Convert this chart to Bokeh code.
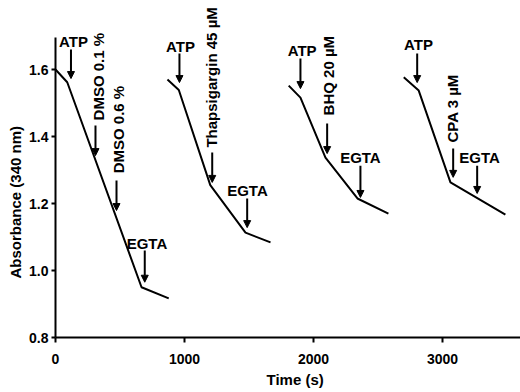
from math import pi
from bokeh.plotting import figure
from bokeh.models import ColumnDataSource, FixedTicker, Arrow, NormalHead, Title, PrintfTickFormatter
from bokeh.core.properties import value
from bokeh.embed import file_html
from bokeh.resources import INLINE

FONT = "Liberation Sans"

# ---- data (time in s, absorbance at 340 nm) ----
trace1_t = [0, 91, 667, 878]
trace1_v = [1.600, 1.562, 0.950, 0.917]
trace2_t = [868, 956, 1200, 1473, 1667]
trace2_v = [1.570, 1.539, 1.255, 1.113, 1.084]
trace3_t = [1808, 1899, 2093, 2341, 2581]
trace3_v = [1.552, 1.516, 1.337, 1.215, 1.170]
trace4_t = [2700, 2816, 3062, 3488]
trace4_v = [1.577, 1.537, 1.263, 1.167]

# horizontal annotations
h_text = ["ATP", "ATP", "ATP", "ATP", "EGTA", "EGTA", "EGTA", "EGTA"]
h_t = [140, 969, 1912, 2814, 709, 1488, 2364, 3287]
h_v = [1.684, 1.670, 1.657, 1.675, 1.081, 1.239, 1.337, 1.337]

# vertical annotations
v_text = ["DMSO 0.1 %", "DMSO 0.6 %", "Thapsigargin 45 µM", "BHQ 20 µM", "CPA 3 µM"]
v_t = [333, 488, 1209, 2116, 3078]
v_v = [1.448, 1.290, 1.367, 1.463, 1.382]

# arrows
arrow_t = [120, 310, 473, 692, 961, 1215, 1486, 1899, 2106, 2364, 2804, 3083, 3269]
arrow_top = [1.660, 1.433, 1.269, 1.060, 1.648, 1.352, 1.215, 1.633, 1.439, 1.313, 1.648, 1.364, 1.313]
arrow_tip = [1.573, 1.343, 1.179, 0.965, 1.561, 1.263, 1.128, 1.543, 1.349, 1.218, 1.561, 1.278, 1.230]

x_ticks = [0, 1000, 2000, 3000]
y_ticks = [0.8, 1.0, 1.2, 1.4, 1.6]

p = figure(width=520, height=392, x_range=(0, 3605), y_range=(0.8, 1.806),
           output_backend="svg", toolbar_location=None, title=None,
           min_border_left=55, min_border_right=0, min_border_top=0, min_border_bottom=55)
p.outline_line_color = None
p.xgrid.grid_line_color = None
p.ygrid.grid_line_color = None
p.background_fill_color = "white"

for ax in (p.xaxis[0], p.yaxis[0]):
    ax.axis_line_width = 2
    ax.axis_line_color = "black"
    ax.major_tick_line_width = 2
    ax.major_tick_line_color = "black"
    ax.major_tick_in = 0
    ax.minor_tick_line_color = None
    ax.major_label_text_font = FONT
    ax.major_label_text_font_style = "bold"
    ax.major_label_text_font_size = "14px"
    ax.major_label_text_color = "black"

p.xaxis.ticker = FixedTicker(ticks=x_ticks)
p.yaxis.ticker = FixedTicker(ticks=y_ticks)
p.yaxis.formatter = PrintfTickFormatter(format="%.1f")
p.xaxis.major_tick_out = 5
p.yaxis.major_tick_out = 4
p.xaxis.major_label_standoff = 11
p.yaxis.major_label_standoff = 3
p.yaxis.bounds = (0.8, 1.695)

# axis titles
p.add_layout(Title(text="Absorbance (340 nm)", align="left", offset=59, standoff=6,
                   text_font=FONT, text_font_style="bold", text_font_size="15px",
                   text_color="black"), "left")
p.add_layout(Title(text="Time (s)", align="left", offset=211, standoff=5,
                   text_font=FONT, text_font_style="bold", text_font_size="15px",
                   text_color="black"), "below")

for t, v in ((trace1_t, trace1_v), (trace2_t, trace2_v), (trace3_t, trace3_v), (trace4_t, trace4_v)):
    p.line(t, v, line_color="black", line_width=2)

arrow_src = ColumnDataSource(dict(t=arrow_t, top=arrow_top, tip=arrow_tip))
p.add_layout(Arrow(source=arrow_src, x_start="t", y_start="top", x_end="t", y_end="tip",
                   line_color="black", line_width=2,
                   end=NormalHead(size=7, fill_color="black", line_color="black", line_width=1)))

h_src = ColumnDataSource(dict(t=h_t, v=h_v, text=h_text))
p.text(x="t", y="v", text="text", source=h_src, text_align="center", text_baseline="middle",
       text_font=value(FONT), text_font_style="bold", text_font_size="15px", text_color="black")

v_src = ColumnDataSource(dict(t=v_t, v=v_v, text=v_text))
p.text(x="t", y="v", text="text", source=v_src, angle=pi / 2, text_align="left", text_baseline="middle",
       text_font=value(FONT), text_font_style="bold", text_font_size="15px", text_color="black")

open("out.html", "w").write(file_html(p, INLINE))
